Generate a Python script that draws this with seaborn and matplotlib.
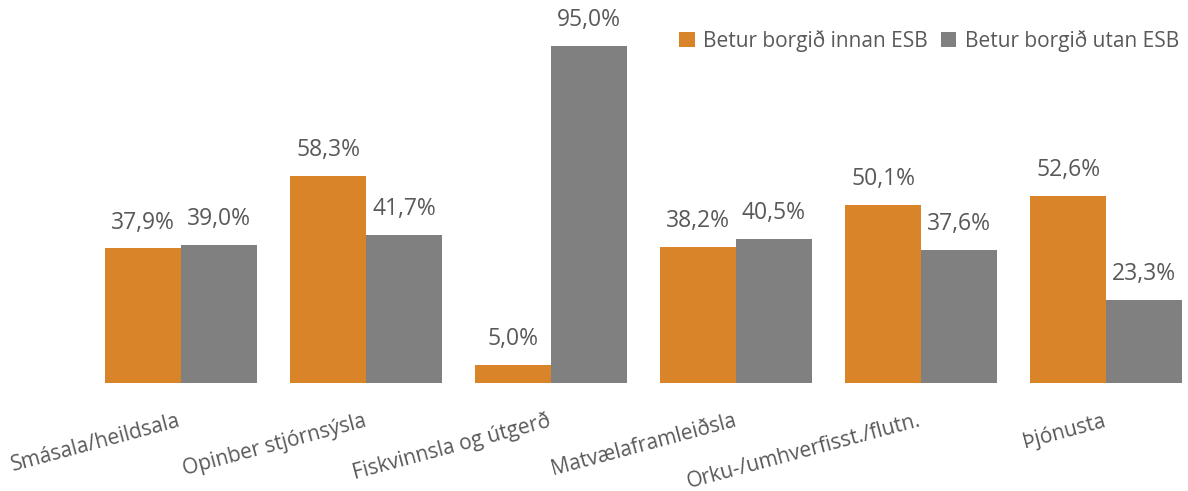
import pandas as pd
import matplotlib.pyplot as plt
import matplotlib.transforms as mtransforms
import seaborn as sns

# Data
categories = ['Smásala/heildsala', 'Opinber stjórnsýsla', 'Fiskvinnsla og útgerð',
              'Matvælaframleiðsla', 'Orku-/umhverfisst./flutn.', 'Þjónusta']
series_names = ['Betur borgið innan ESB', 'Betur borgið utan ESB']
innan = [37.9, 58.3, 5.0, 38.2, 50.1, 52.6]
utan = [39.0, 41.7, 95.0, 40.5, 37.6, 23.3]

colors = ['#DA8429', '#808080']
text_color = '#595959'

df = pd.DataFrame({
    'category': categories * 2,
    'series': [series_names[0]] * len(categories) + [series_names[1]] * len(categories),
    'value': innan + utan,
})

sns.set_theme(style='white')
plt.rcParams['font.family'] = ['Open Sans', 'DejaVu Sans']

fig = plt.figure(figsize=(11.88, 4.91), dpi=100)
ax = fig.add_axes([0.0, 0.22, 1.0, 0.723])

sns.barplot(data=df, x='category', y='value', hue='series', order=categories,
            hue_order=series_names, palette=colors, width=0.82, gap=0,
            linewidth=0, saturation=1, ax=ax)

ax.set_ylim(0, 100)
ax.set_xlim(-0.978, 5.443)

for cont in ax.containers:
    labels = [f"{b.get_height():.1f}%".replace('.', ',') for b in cont]
    ax.bar_label(cont, labels=labels, padding=10, fontsize=16.5, color=text_color)

# category labels, rotated, right end sitting under each group centre
ax.set_xticks([])
ax.set_yticks([])
ax.set_xlabel('')
ax.set_ylabel('')
trans = mtransforms.blended_transform_factory(ax.transData, ax.transAxes)
label_trans = mtransforms.offset_copy(trans, fig=fig, x=1, y=-43, units='dots')
for i, cat in enumerate(categories):
    ax.text(i, 0, cat, transform=label_trans, rotation=15, rotation_mode='anchor',
            ha='right', va='baseline', fontsize=15, color=text_color)

sns.despine(ax=ax, left=True, bottom=True)

ax.legend(loc='upper right', bbox_to_anchor=(1.008, 0.977), bbox_transform=fig.transFigure,
          ncol=2, frameon=False, fontsize=15, handlelength=0.75, handleheight=0.75,
          handletextpad=0.4, columnspacing=0.6, labelcolor=text_color)

plt.savefig('out.png', dpi=100)
plt.close()
